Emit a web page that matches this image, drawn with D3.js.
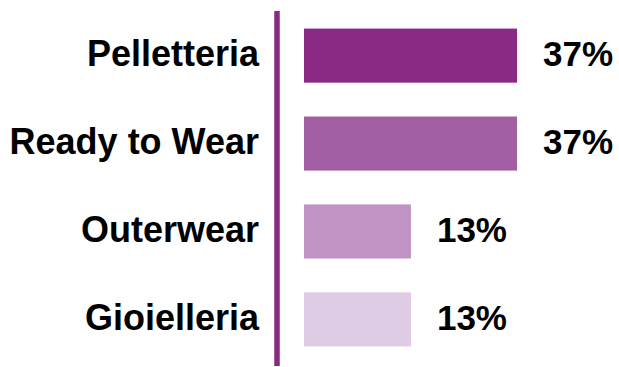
<!DOCTYPE html>
<html>
<head>
<meta charset="utf-8">
<script src="https://cdn.jsdelivr.net/npm/d3@7"></script>
<style>
  body { margin: 0; background: #fff; }
  text { font-family: "Liberation Sans", Arial, Helvetica, sans-serif; font-weight: bold; }
</style>
</head>
<body>
<div id="chart"></div>
<script>
const categories = ["Pelletteria", "Ready to Wear", "Outerwear", "Gioielleria"];
const shares = [37, 37, 13, 13];
const colors = ["#8b2a85", "#a35fa3", "#c193c4", "#decbe4"];

const width = 619;
const height = 367;

const svg = d3.select("#chart").append("svg")
    .attr("width", width)
    .attr("height", height);

// bars start at a fixed left edge; the scale has a floor so small shares still show
const x = d3.scaleLinear()
    .domain([-11.2, 37])
    .range([304, 517]);

const y = d3.scaleBand()
    .domain(categories)
    .range([11, 364])
    .paddingInner(0.385)
    .paddingOuter(0.2);

svg.selectAll("rect.bar")
    .data(categories)
    .enter().append("rect")
    .attr("class", "bar")
    .attr("x", x.range()[0])
    .attr("y", d => y(d))
    .attr("width", (d, i) => x(shares[i]) - x.range()[0])
    .attr("height", y.bandwidth())
    .attr("fill", (d, i) => colors[i]);

// axis line
svg.append("line")
    .attr("x1", 277).attr("x2", 277)
    .attr("y1", 11).attr("y2", 366)
    .attr("stroke", "#8b2a85")
    .attr("stroke-width", 5.5);

svg.selectAll("text.cat")
    .data(categories)
    .enter().append("text")
    .attr("class", "cat")
    .attr("x", 259)
    .attr("y", d => y(d) + y.bandwidth() / 2 + 10.5)
    .attr("text-anchor", "end")
    .attr("font-size", 36)
    .attr("fill", "#000")
    .text(d => d);

svg.selectAll("text.val")
    .data(categories)
    .enter().append("text")
    .attr("class", "val")
    .attr("x", (d, i) => x(shares[i]) + 26)
    .attr("y", d => y(d) + y.bandwidth() / 2 + 10.5)
    .attr("font-size", 35)
    .attr("fill", "#000")
    .text((d, i) => shares[i] + "%");
</script>
</body>
</html>
